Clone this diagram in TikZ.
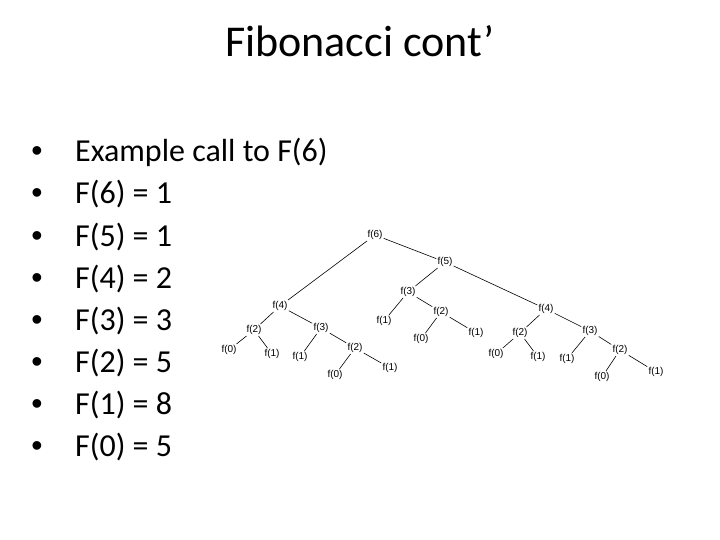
\documentclass[tikz,border=0pt]{standalone}
\usepackage{fontspec}
\setmainfont{Carlito}
\newfontfamily\treefont{Liberation Sans}
\definecolor{bg}{HTML}{FFFFFF}
\definecolor{ink}{HTML}{000000}
\tikzset{
  call/.style={font=\treefont\fontsize{10}{12}\selectfont,inner sep=1.2pt,text=ink},
  link/.style={draw=ink,line width=0.6pt},
  item/.style={anchor=base west,inner sep=0pt,font=\fontsize{32}{38}\selectfont},
  dot/.style={anchor=base,inner sep=0pt,font=\treefont\fontsize{32}{38}\selectfont}
}

\begin{document}
\begin{tikzpicture}[x=1pt,y=-1pt,line join=round,line cap=round]
  % slide 720 x 540
  \fill[bg] (0,0) rectangle (720,540);
  \useasboundingbox (0,0) rectangle (720,540);

  % ---- title ----
  \node[anchor=base,inner sep=0pt,font=\fontsize{44}{52}\selectfont] (title) at (360,57) {Fibonacci cont’};

  % ---- bullet list ----
  \foreach \t [count=\i] in {Example call to F(6),F(6) = 1,F(5) = 1,F(4) = 2,
                             F(3) = 3,F(2) = 5,F(1) = 8,F(0) = 5}{
    \node[dot] (bul\i) at (37,{162+42*(\i-1)}) {•};
    \node[item] (txt\i) at (75,{162+42*(\i-1)}) {\t};
  }

  % ---- call tree ----
  \node[call] (f6)   at (375,235) {f(6)};
  \node[call] (f5)   at (445,262) {f(5)};
  % left branch
  \node[call] (f4a)  at (280,306) {f(4)};
  \node[call] (f2a)  at (254,330) {f(2)};
  \node[call] (f0a)  at (229,350) {f(0)};
  \node[call] (f1a)  at (272,354) {f(1)};
  \node[call] (f3a)  at (321,328) {f(3)};
  \node[call] (f1b)  at (300,357) {f(1)};
  \node[call] (f2b)  at (355,348) {f(2)};
  \node[call] (f0b)  at (335,375) {f(0)};
  \node[call] (f1c)  at (390,368) {f(1)};
  % middle branch
  \node[call] (f3b)  at (408,292) {f(3)};
  \node[call] (f1d)  at (384,321) {f(1)};
  \node[call] (f2c)  at (441,312) {f(2)};
  \node[call] (f0c)  at (421,339) {f(0)};
  \node[call] (f1e)  at (476,333) {f(1)};
  % right branch
  \node[call] (f4b)  at (546,309) {f(4)};
  \node[call] (f2d)  at (520,333) {f(2)};
  \node[call] (f0d)  at (496,354) {f(0)};
  \node[call] (f1f)  at (538,357) {f(1)};
  \node[call] (f3c)  at (590,331) {f(3)};
  \node[call] (f1g)  at (567,359) {f(1)};
  \node[call] (f2e)  at (620,350) {f(2)};
  \node[call] (f0e)  at (602,377) {f(0)};
  \node[call] (f1h)  at (656,372) {f(1)};

  % edges
  \foreach \p/\c in {f6/f4a,f6/f5,f5/f3b,f5/f4b,
                     f4a/f2a,f4a/f3a,f2a/f0a,f2a/f1a,f3a/f1b,f3a/f2b,f2b/f0b,f2b/f1c,
                     f3b/f1d,f3b/f2c,f2c/f0c,f2c/f1e,
                     f4b/f2d,f4b/f3c,f2d/f0d,f2d/f1f,f3c/f1g,f3c/f2e,f2e/f0e,f2e/f1h}{
    \draw[link] (\p) -- (\c);
  }
\end{tikzpicture}
\end{document}
